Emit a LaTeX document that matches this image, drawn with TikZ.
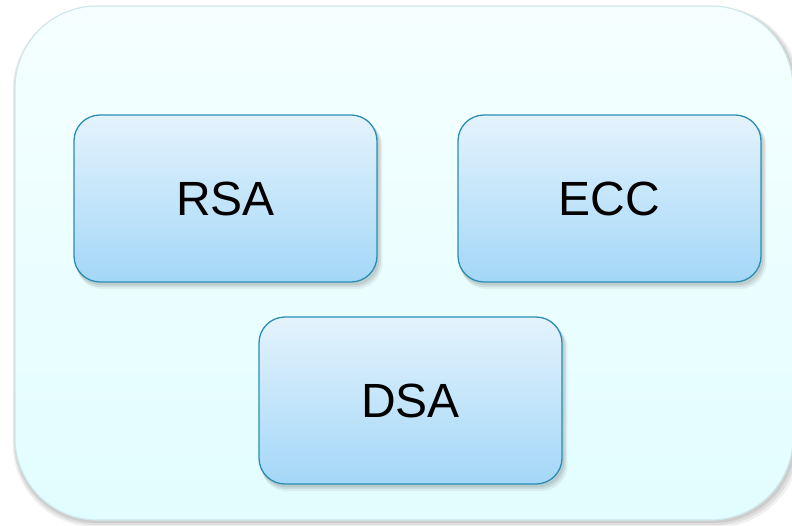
\documentclass[tikz,border=0pt]{standalone}
\usepackage{fontspec}
\setmainfont{Liberation Sans}
\usetikzlibrary{shadows,calc}
\definecolor{outerline}{HTML}{CFE7EA}
\definecolor{outertop}{HTML}{F5FFFF}
\definecolor{outerbot}{HTML}{E2FDFF}
\definecolor{boxline}{HTML}{2B8DB3}
\definecolor{boxtop}{HTML}{E4F3FD}
\definecolor{boxbot}{HTML}{A3D7F7}
\tikzset{
  softshadow/.style={
    drop shadow={shadow xshift=#1*0.6pt, shadow yshift=-#1*1.0pt, shadow scale=1.004, opacity=0.12, fill=black!70},
    drop shadow={shadow xshift=#1*0.9pt, shadow yshift=-#1*1.5pt, shadow scale=1.008, opacity=0.10, fill=black!70},
    drop shadow={shadow xshift=#1*1.2pt, shadow yshift=-#1*2.0pt, shadow scale=1.012, opacity=0.08, fill=black!70}},
  panel/.style={draw=outerline, line width=1.2pt, rounded corners=82pt,
    top color=outertop, bottom color=outerbot, softshadow=2},
  algbox/.style={draw=boxline, line width=1.3pt, rounded corners=26pt,
    top color=boxtop, bottom color=boxbot,
    minimum width=303pt, minimum height=167pt, inner sep=0pt,
    font=\fontsize{48}{52}\selectfont, softshadow=3}
}
\begin{document}
\begin{tikzpicture}[x=1pt,y=-1pt]
  \useasboundingbox (0,0) rectangle (792,525);
  \fill[white] (0,0) rectangle (792,525);
  % enclosing panel
  \path[panel] (15,6) rectangle (793,520);
  % algorithm boxes
  \node[algbox] (rsa) at (225.5,198.5) {RSA};
  \node[algbox] (ecc) at (609.5,198.5) {ECC};
  \node[algbox] (dsa) at (410.5,400.5) {DSA};
\end{tikzpicture}
\end{document}
